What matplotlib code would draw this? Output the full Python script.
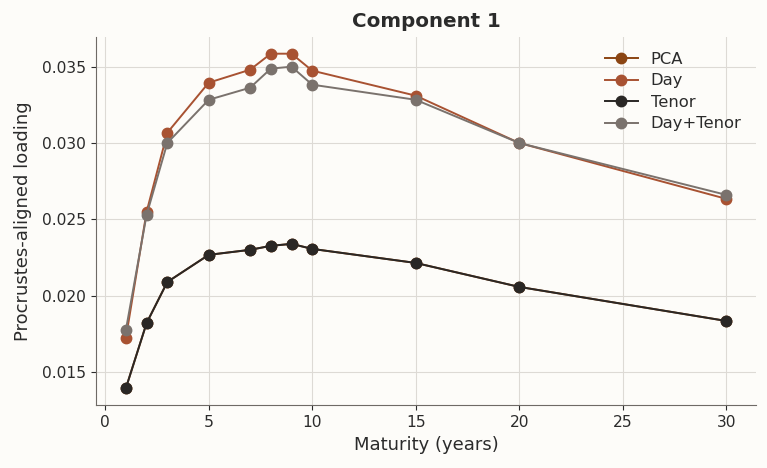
import matplotlib
matplotlib.use("Agg")
import matplotlib.pyplot as plt

#%% ─── Data ─────────────────────────────────────────────────────────────────────

maturities = [1, 2, 3, 5, 7, 8, 9, 10, 15, 20, 30]

pca        = [0.01394, 0.01820, 0.02089, 0.02267, 0.02300, 0.02326, 0.02339, 0.02306, 0.02214, 0.02057, 0.01834]
day        = [0.01722, 0.02549, 0.03067, 0.03395, 0.03480, 0.03585, 0.03585, 0.03474, 0.03310, 0.03000, 0.02634]
tenor      = [0.01394, 0.01820, 0.02089, 0.02267, 0.02300, 0.02326, 0.02339, 0.02306, 0.02214, 0.02057, 0.01834]
day_tenor  = [0.01775, 0.02529, 0.03000, 0.03283, 0.03362, 0.03487, 0.03500, 0.03382, 0.03283, 0.03000, 0.02660]

series = [
    (pca,       'PCA',       '#8B4513'),
    (day,       'Day',       '#A85232'),
    (tenor,     'Tenor',     '#2A2725'),
    (day_tenor, 'Day+Tenor', '#7A726D'),
]

#%% ─── Plot ─────────────────────────────────────────────────────────────────────

bg   = '#FDFCF9'
text = '#2B2B2B'

fig, ax = plt.subplots(figsize=(7.67, 4.68), dpi=100)
fig.patch.set_facecolor(bg)
ax.set_facecolor(bg)

for vals, name, col in series:
    ax.plot(maturities, vals, '-o', color=col, label=name, lw=1.4, ms=7.5)

ax.set_title('Component 1', fontsize=14.3, fontweight='bold', color=text, pad=7)
ax.set_xlabel('Maturity (years)', fontsize=13, color=text, labelpad=5)
ax.set_ylabel('Procrustes-aligned loading', fontsize=13, color=text, labelpad=7)
ax.tick_params(labelsize=11.2, colors=text)
ax.set_xticks([0, 5, 10, 15, 20, 25, 30])
ax.set_yticks([0.015, 0.020, 0.025, 0.030, 0.035])

ax.grid(True, color='#DDDAD5', lw=0.8)
ax.set_axisbelow(True)
for s in ['top', 'right']:
    ax.spines[s].set_visible(False)
for s in ['left', 'bottom']:
    ax.spines[s].set_color('#6E6A66')

leg = ax.legend(frameon=False, fontsize=11.8, loc='upper right', labelspacing=0.4)
for t in leg.get_texts():
    t.set_color(text)

fig.subplots_adjust(left=0.125, right=0.986, top=0.921, bottom=0.135)
fig.savefig('out.png', dpi=100, facecolor=bg)
